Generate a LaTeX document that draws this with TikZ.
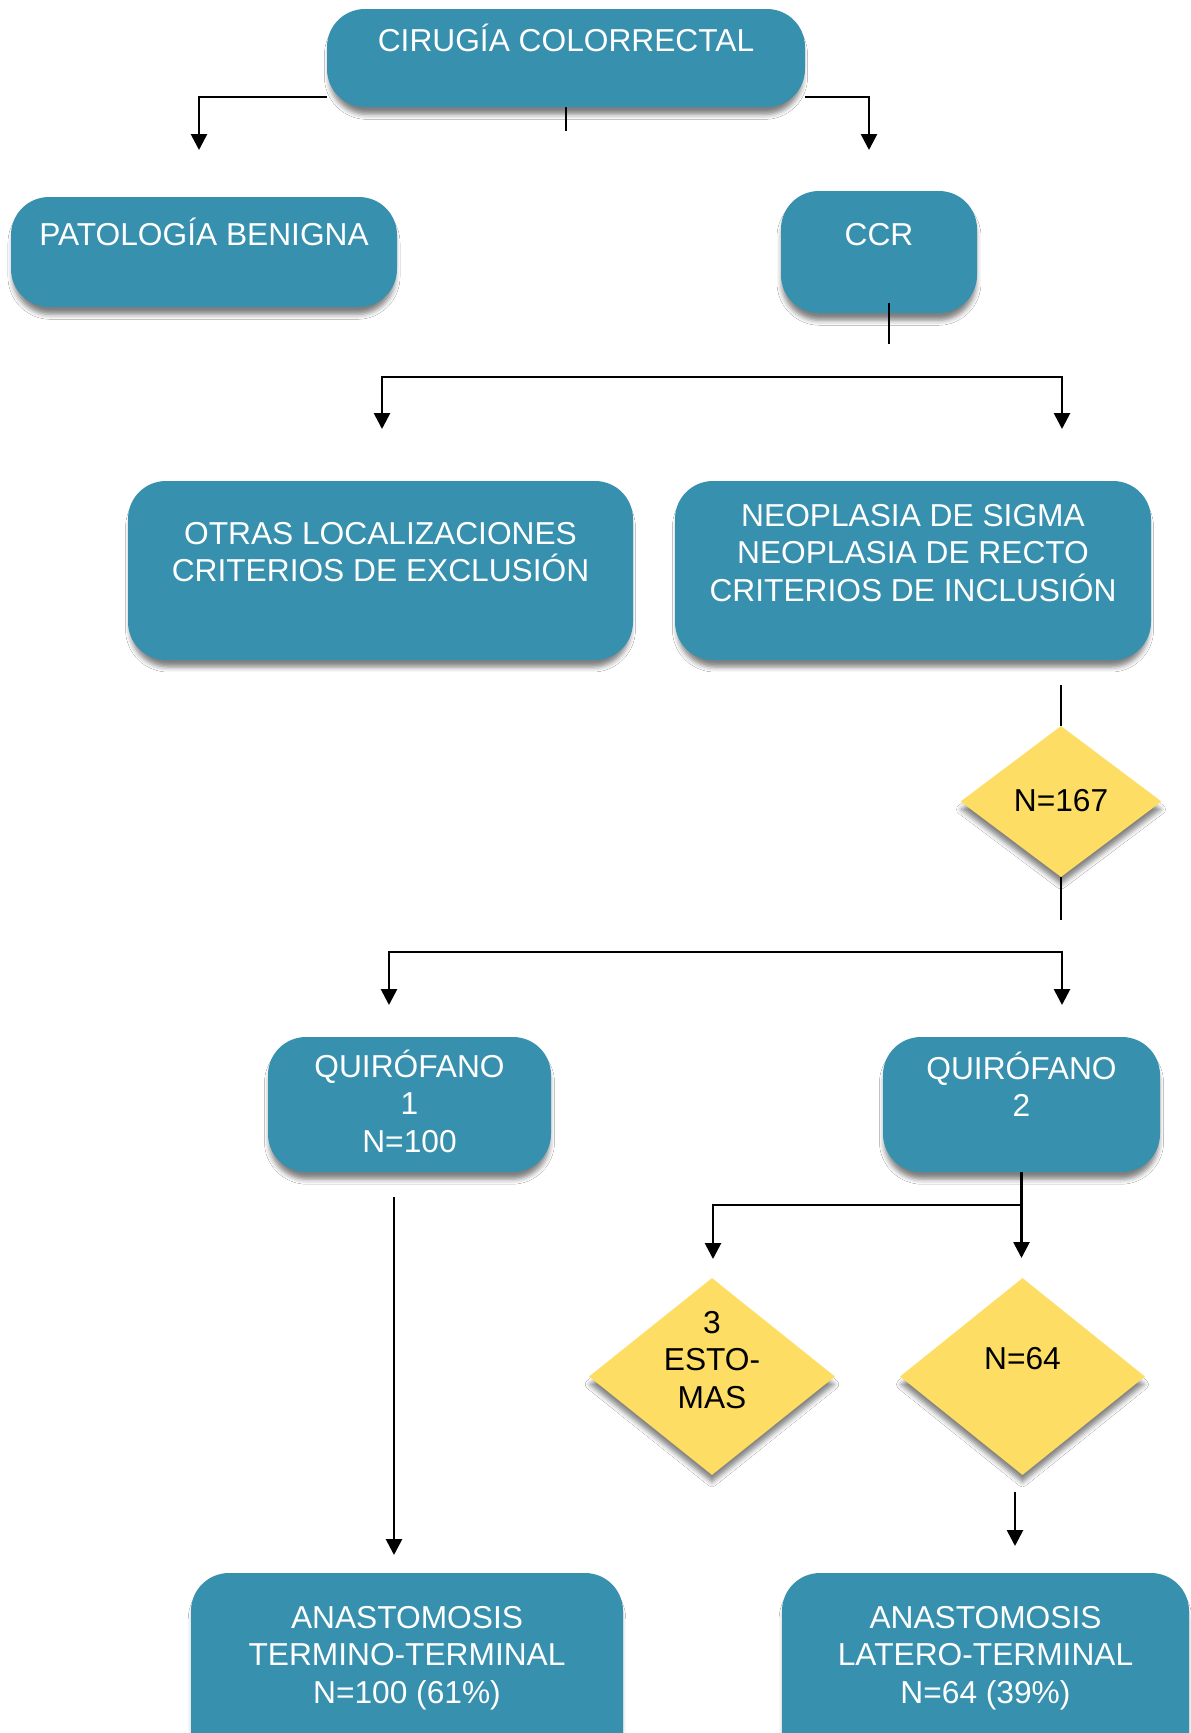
\documentclass[tikz,border=0pt]{standalone}
\usepackage{fontspec}
\setmainfont{Liberation Sans}
\usetikzlibrary{shapes.geometric,arrows.meta,shadows.blur}
\definecolor{boxteal}{RGB}{55,144,173}
\definecolor{decisionyellow}{RGB}{253,221,99}
\pgfdeclarelayer{back}
\pgfsetlayers{back,main}
% centred lines, baseline of the whole block = baseline of the first line
\newcommand\stacked[1]{\vtop{\halign{\hfil##\hfil\cr#1\crcr}}}

\begin{document}
\begin{tikzpicture}[x=1pt,y=-1pt,
  softshadow/.style={blur shadow={shadow xshift=0pt, shadow yshift=-8pt,
      shadow scale=0.99, shadow blur radius=5pt, shadow opacity=50}},
  box/.style={draw=none, fill=boxteal, rounded corners=38pt, inner sep=0pt, softshadow},
  decision/.style={diamond, draw=none, fill=decisionyellow, inner sep=0pt, softshadow},
  boxtext/.style={text=white, inner sep=0pt, anchor=base,
      font=\fontsize{31.7}{37.5}\selectfont},
  decisiontext/.style={boxtext, text=black},
  link/.style={line width=2.7pt},
  arrowlink/.style={link, -{Triangle[width=16pt,length=16pt]}},
  twoway/.style={link, {Triangle[width=16pt,length=16pt]}-{Triangle[width=16pt,length=16pt]}},
]
\useasboundingbox (0,0) rectangle (1191,1733);

% ---- process boxes ----
\node[box, minimum width=478pt, minimum height=98pt]  (top)    at (566,58) {};
\node[box, minimum width=386pt, minimum height=110pt] (benign) at (204,252) {};
\node[box, minimum width=196pt, minimum height=122pt] (ccr)    at (879,252) {};
\node[box, minimum width=505pt, minimum height=179pt] (other)  at (380.5,570.5) {};
\node[box, minimum width=476pt, minimum height=179pt] (neo)    at (913,570.5) {};
\node[box, minimum width=283pt, minimum height=135pt] (or1)    at (409.5,1104.5) {};
\node[box, minimum width=277pt, minimum height=135pt] (or2)    at (1021.5,1104.5) {};
\node[box, minimum width=432pt, minimum height=207pt] (endtt)  at (407,1676.5) {};
\node[box, minimum width=407pt, minimum height=207pt] (endlt)  at (985.5,1676.5) {};

% ---- decision diamonds ----
\node[decision, minimum width=201pt, minimum height=151pt] (n167)  at (1061,801.5) {};
\node[decision, minimum width=246pt, minimum height=197pt] (stoma) at (712,1376.5) {};
\node[decision, minimum width=245pt, minimum height=197pt] (n64)   at (1022.5,1376.5) {};

% ---- labels ----
\node[boxtext] (top-t)    at (566,51)    {\stacked{CIRUGÍA COLORRECTAL}};
\node[boxtext] (benign-t) at (204,245)   {\stacked{PATOLOGÍA BENIGNA}};
\node[boxtext] (ccr-t)    at (879,245)   {\stacked{CCR}};
\node[boxtext] (other-t)  at (380.5,544) {\stacked{OTRAS LOCALIZACIONES\cr CRITERIOS DE EXCLUSIÓN}};
\node[boxtext] (neo-t)    at (913,526)   {\stacked{NEOPLASIA DE SIGMA\cr NEOPLASIA DE RECTO\cr CRITERIOS DE INCLUSIÓN}};
\node[boxtext] (or1-t)    at (409.5,1077) {\stacked{QUIRÓFANO\cr 1\cr N=100}};
\node[boxtext] (or2-t)    at (1021.5,1079) {\stacked{QUIRÓFANO\cr 2}};
\node[decisiontext] (n167-t)  at (1061,811)    {\stacked{N=167}};
\node[decisiontext] (stoma-t) at (712,1333)    {\stacked{3\cr ESTO-\cr MAS}};
\node[decisiontext] (n64-t)   at (1022.5,1369) {\stacked{N=64}};
\node[boxtext] (endtt-t)  at (407,1628)   {\stacked{ANASTOMOSIS\cr TERMINO-TERMINAL\cr N=100 (61\%)}};
\node[boxtext] (endlt-t)  at (985.5,1628) {\stacked{ANASTOMOSIS\cr LATERO-TERMINAL\cr N=64 (39\%)}};

% ---- free ends of connectors ----
\coordinate (benign-in)   at (199,150);
\coordinate (ccr-in)      at (869,150);
\coordinate (top-stub)    at (566,131);
\coordinate (ccr-stub-top) at (889,303);
\coordinate (ccr-stub)    at (889,344);
\coordinate (split2-l)    at (382,429);
\coordinate (split2)      at (722,377);
\coordinate (split2-r)    at (1062,429);
\coordinate (n167-in)     at (1061,685);
\coordinate (n167-out)    at (1061,920);
\coordinate (split3-l)    at (389,1005);
\coordinate (split3)      at (725,952);
\coordinate (split3-r)    at (1062,1005);
\coordinate (or1-out)     at (394,1197);
\coordinate (endtt-in)    at (394,1555);
\coordinate (stoma-in)    at (713,1259);
\coordinate (n64-in)      at (1021.5,1258);
\coordinate (n64-out)     at (1015,1492);
\coordinate (endlt-in)    at (1015,1546);

% ---- connectors (behind the shapes) ----
\begin{pgfonlayer}{back}
  \fill[white] (0,0) rectangle (1191,1733);
  \draw[arrowlink] (top.west |- 0,97) -| (benign-in);
  \draw[arrowlink] (top.east |- 0,97) -| (ccr-in);
  \draw[link] (top.south) -- (top-stub);
  \draw[twoway] (split2-l) |- (split2) -| (split2-r);
  \draw[link] (n167-in) -- (n167.north);
  \draw[link] (n167.south) -- (n167-out);
  \draw[twoway] (split3-l) |- (split3) -| (split3-r);
  \draw[arrowlink] (or1-out) -- (endtt-in);
  \draw[arrowlink] (or2.south) -- (n64-in);
  \draw[arrowlink] (or2.south |- 0,1205) -| (stoma-in);
  \draw[arrowlink] (n64-out) -- (endlt-in);
\end{pgfonlayer}

% stub leaving the CCR box, drawn over it
\draw[link] (ccr-stub-top) -- (ccr-stub);
\end{tikzpicture}
\end{document}
